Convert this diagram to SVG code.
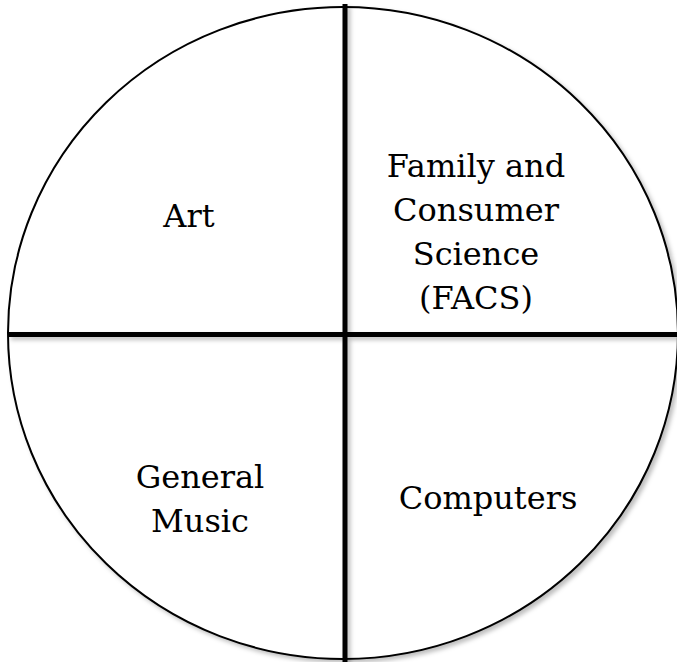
<svg xmlns="http://www.w3.org/2000/svg" width="677" height="662" viewBox="0 0 677 662">
<defs>
<filter id="sh" x="-10%" y="-10%" width="120%" height="120%">
<feDropShadow dx="3" dy="3" stdDeviation="2" flood-color="#000" flood-opacity="0.25"/>
</filter>
<style>
.lbl{font-family:"DejaVu Serif","Liberation Serif",serif;font-size:32px;fill:#000;text-anchor:middle}
.ring{fill:#fff;stroke:#000;stroke-width:2}
.div{stroke:#000;stroke-width:5;fill:none}
</style>
</defs>
<rect width="677" height="662" fill="#fff"/>
<g id="circle"><ellipse class="ring" cx="343" cy="333" rx="335" ry="326" filter="url(#sh)"/></g>
<g id="connectors" filter="url(#sh)">
<line class="div" x1="345" y1="4" x2="345" y2="662"/>
<line class="div" x1="8" y1="334.5" x2="677" y2="334.5"/>
</g>
<g id="art"><text class="lbl" x="189" y="227">Art</text></g>
<g id="facs"><text class="lbl" x="476" y="177">Family and</text><text class="lbl" x="476" y="221">Consumer</text><text class="lbl" x="476" y="265">Science</text><text class="lbl" x="476" y="309">(FACS)</text></g>
<g id="music"><text class="lbl" x="200" y="488">General</text><text class="lbl" x="200" y="532">Music</text></g>
<g id="computers"><text class="lbl" x="488" y="509">Computers</text></g>
</svg>
